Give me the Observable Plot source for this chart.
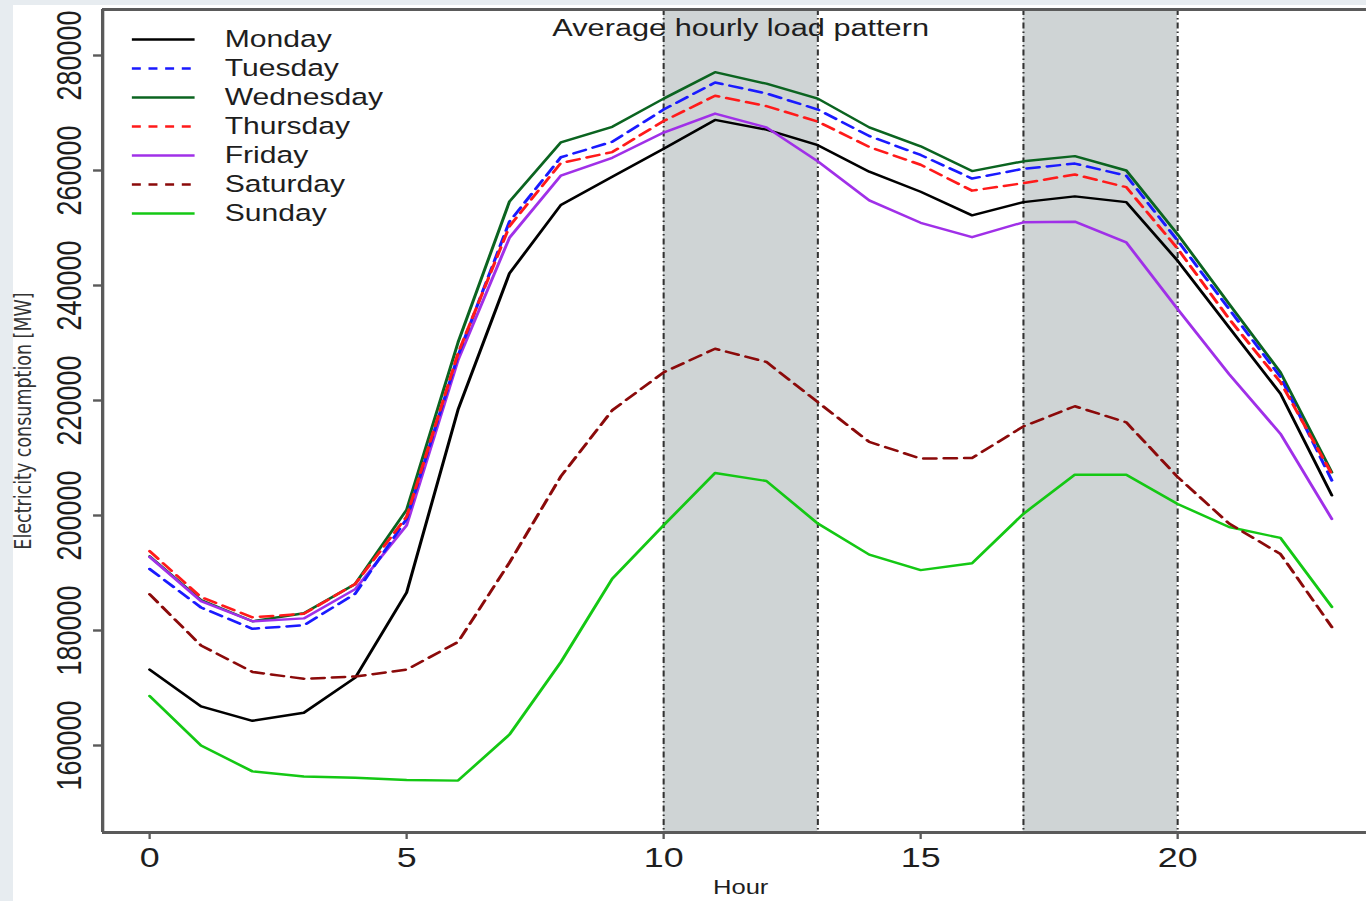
<!DOCTYPE html>
<html>
<head>
<meta charset="utf-8">
<script src="https://cdn.jsdelivr.net/npm/d3@7"></script>
<script src="https://cdn.jsdelivr.net/npm/@observablehq/plot@0.6"></script>
<style>
html, body { margin: 0; padding: 0; width: 1366px; height: 901px; overflow: hidden; background: #e7ecf0; }
#bg { position: absolute; left: 13px; top: 5px; width: 1353px; height: 896px; background: #ffffff; }
#chart { position: absolute; left: 0; top: 0; width: 1067px; height: 901px; transform: scaleX(1.2802); transform-origin: 0 0; }
#chart svg { position: absolute; left: 0; top: 0; }
</style>
</head>
<body>
<div id="bg"></div>
<div id="chart"></div>
<script>
// ---- data ----
const hours = [0,1,2,3,4,5,6,7,8,9,10,11,12,13,14,15,16,17,18,19,20,21,22,23];
const days = ["Monday","Tuesday","Wednesday","Thursday","Friday","Saturday","Sunday"];
const dashedDays = ["Tuesday","Thursday","Saturday"];
const dayColors = ["#000000","#1a1aff","#0b6420","#ff1a1a","#a030e8","#8b0a0a","#14c814"];

const monday    = [173200,166800,164300,165700,171800,186600,218400,242100,254000,258900,263800,268800,267100,264400,259800,256300,252200,254500,255500,254500,244300,232700,221200,203500];
const tuesday   = [190700,184000,180300,180900,186400,199400,227800,251100,262300,265000,270600,275300,273400,270600,266000,262700,258600,260300,261200,259100,247800,235900,224100,206100];
const wednesday = [192900,185300,181600,183000,188100,201000,230100,254600,264900,267600,272500,277100,275100,272500,267500,264200,259900,261600,262500,260000,248900,236800,224900,207500];
const thursday  = [193800,185800,182300,182900,188100,199800,228200,250300,261300,263200,268600,273000,271200,268500,264100,261000,256500,257800,259300,257100,246400,234200,223200,207200];
const friday    = [192800,185100,181600,182100,187200,198300,227000,248300,259100,262200,266600,269900,267500,261600,254800,250900,248400,251000,251100,247500,235900,224600,214200,199400];
const saturday  = [186300,177400,172800,171600,172000,173200,178000,191800,206800,218300,224900,229000,226700,219700,212800,209900,210000,215500,219000,216200,206700,198600,193300,180600];
const sunday    = [168600,160000,155500,154600,154400,154000,153900,161900,174500,189000,198300,207400,206000,198600,193200,190500,191700,200300,207100,207100,202000,198000,196100,184100];
const series = [monday, tuesday, wednesday, thursday, friday, saturday, sunday];

const peakStart = [10, 17];
const peakEnd = [13, 20];

const xTicks = [0, 5, 10, 15, 20];
const yTicks = [160000, 180000, 200000, 220000, 240000, 260000, 280000];
const xDomain = [-0.914, 23.676];
const yDomain = [144870, 288000];

const titleText = "Average hourly load pattern";
const xLabel = "Hour";
const yLabel = "Electricity consumption [MW]";

// ---- build table ----
const rows = [];
days.forEach((d, i) => hours.forEach((h, j) => rows.push({day: d, hour: h, load: series[i][j]})));
const isDashed = d => dashedDays.includes(d);
const peaks = peakStart.map((s, i) => ({start: s, end: peakEnd[i]}));

const font = "'Liberation Sans', Arial, Helvetica, sans-serif";
const axisGray = "#5a5a5a";

const chart = Plot.plot({
  width: 1067,
  height: 901,
  marginLeft: 79.68,
  marginRight: 0,
  marginTop: 9,
  marginBottom: 69,
  style: {background: "transparent", fontFamily: font, color: "#1e1e1e", overflow: "visible"},
  x: {domain: xDomain},
  y: {domain: yDomain},
  color: {domain: days, range: dayColors},
  marks: [
    Plot.rect(peaks, {x1: "start", x2: "end", fill: "#cfd4d5"}),
    Plot.ruleX([...peakStart, ...peakEnd], {stroke: "#333333", strokeWidth: 1.6, strokeDasharray: "6,3,1.5,3"}),
    Plot.line(rows.filter(r => !isDashed(r.day)), {x: "hour", y: "load", z: "day", stroke: "day", strokeWidth: 2.4}),
    Plot.line(rows.filter(r => isDashed(r.day)), {x: "hour", y: "load", z: "day", stroke: "day", strokeWidth: 2.5, strokeDasharray: "10,6"}),
    Plot.ruleX([xDomain[0]], {stroke: axisGray, strokeWidth: 2.6}),
    Plot.ruleY(yDomain, {stroke: axisGray, strokeWidth: 3}),
    Plot.axisX({ticks: xTicks, tickSize: 7, tickPadding: 8, fontSize: 28, stroke: axisGray, strokeWidth: 1.8, fill: "#1e1e1e", label: null}),
    Plot.axisY({ticks: yTicks, tickSize: 7, tickPadding: 10, tickRotate: -90, textAnchor: "middle", lineAnchor: "bottom",
                fontSize: 27, tickFormat: d => String(d), stroke: axisGray, strokeWidth: 2.4, fill: "#1e1e1e", label: null}),
    Plot.text([yLabel], {frameAnchor: "left", rotate: -90, dx: -56.3, textAnchor: "middle", lineAnchor: "bottom",
                         fontSize: 17.5, fontFamily: "'DejaVu Sans', sans-serif", fill: "#333333"}),
    Plot.text([xLabel], {frameAnchor: "bottom", dy: 61, dx: 4.7, textAnchor: "middle", lineAnchor: "bottom", fontSize: 20, fill: "#1e1e1e"}),
    Plot.text([titleText], {frameAnchor: "top", dy: 26, dx: 4.7, textAnchor: "middle", lineAnchor: "bottom", fontSize: 24, fill: "#1e1e1e"})
  ]
});

const legend = Plot.plot({
  width: 320,
  height: 240,
  margin: 0,
  style: {background: "transparent", fontFamily: font, overflow: "visible"},
  axis: null,
  x: {domain: [0, 1], range: [103, 152]},
  y: {type: "point", domain: days, range: [38, 214], padding: 0},
  color: {domain: days, range: dayColors},
  marks: [
    Plot.ruleY(days.filter(d => !isDashed(d)), {y: d => d, x1: () => 0, x2: () => 1, stroke: d => d, strokeWidth: 2.4}),
    Plot.ruleY(days.filter(d => isDashed(d)), {y: d => d, x1: () => 0, x2: () => 1, stroke: d => d, strokeWidth: 2.5, strokeDasharray: "7,6"}),
    Plot.text(days, {y: d => d, x: () => 1, dx: 23, text: d => d, textAnchor: "start", fontSize: 23.5, fill: "#1e1e1e"})
  ]
});

const host = document.getElementById("chart");
host.appendChild(chart);
host.appendChild(legend);
</script>
</body>
</html>
